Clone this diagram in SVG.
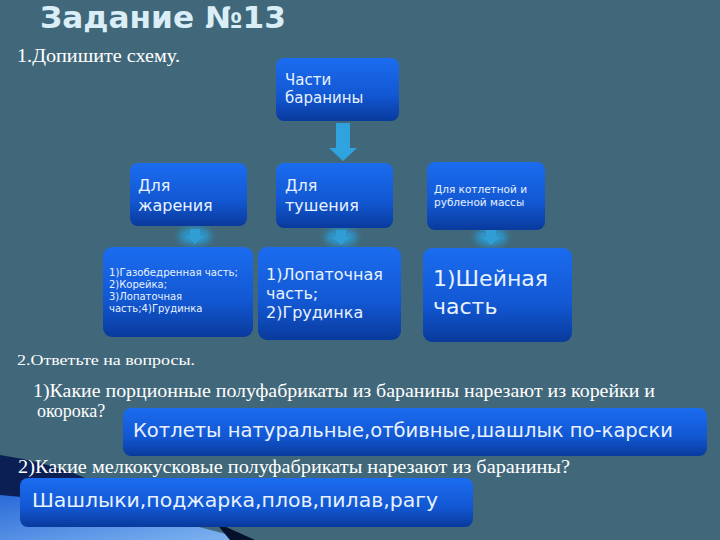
<svg xmlns="http://www.w3.org/2000/svg" width="720" height="540" viewBox="0 0 720 540">
<style>
.box{fill:url(#bg);}
.bt{font-family:"DejaVu Sans","Noto Sans",sans-serif;fill:#e8f2ff;}
.sr{font-family:"Liberation Serif",serif;fill:#ffffff;}
.arr{fill:#2fa3de;}
</style>
<defs>
<linearGradient id="bg" x1="0" y1="0" x2="0" y2="1">
<stop offset="0" stop-color="#1b6cf0"/>
<stop offset="0.6" stop-color="#1257d2"/>
<stop offset="1" stop-color="#093a9c"/>
</linearGradient>
<linearGradient id="sw" x1="0" y1="0" x2="1" y2="1">
<stop offset="0" stop-color="#2a6ad8"/>
<stop offset="1" stop-color="#7fb4f0"/>
</linearGradient>
<filter id="glow" x="-50%" y="-50%" width="200%" height="200%"><feGaussianBlur stdDeviation="3"/></filter>
</defs>
<rect width="720" height="540" fill="#41687a"/>
<!-- bottom-left decoration -->
<path d="M0 455 Q50 462 95 482 L95 540 L0 540 Z" fill="#0b1f55"/>
<path d="M0 495 Q120 505 230 535 L235 540 L0 540 Z" fill="url(#sw)"/>
<path d="M215 522 L255 540 L230 540 Z" fill="#05102a"/>
<text x="40" y="28" font-family="'DejaVu Sans',sans-serif" font-weight="bold" font-size="30" fill="#d9eef6" textLength="246" lengthAdjust="spacingAndGlyphs">Задание №13</text>
<text class="sr" x="17" y="62" font-size="18" textLength="163" lengthAdjust="spacingAndGlyphs">1.Допишите схему.</text>
<g id="connectors">
<path class="arr" d="M336 123 H350 V148 H357 L343 161 L329 148 H336 Z"/>
<g opacity="0.9">
<ellipse cx="195" cy="236" rx="16" ry="9" fill="#2a9ad0" filter="url(#glow)"/>
<path class="arr" d="M190 229 H200 V236 H204 L195 244 L186 236 H190 Z"/>
<ellipse cx="341" cy="237" rx="16" ry="9" fill="#2a9ad0" filter="url(#glow)"/>
<path class="arr" d="M336 230 H346 V237 H350 L341 245 L332 237 H336 Z"/>
<ellipse cx="491" cy="237" rx="16" ry="9" fill="#2a9ad0" filter="url(#glow)"/>
<path class="arr" d="M486 230 H496 V237 H500 L491 245 L482 237 H486 Z"/>
</g>
</g>
<g id="n-parts">
<rect class="box" x="276" y="58" width="123" height="63" rx="8"/>
<text class="bt" x="285" y="85" font-size="15">Части</text>
<text class="bt" x="285" y="103" font-size="15">баранины</text>
</g>
<g id="n-fry">
<rect class="box" x="130" y="163" width="117" height="63" rx="8"/>
<text class="bt" x="138" y="191" font-size="16">Для</text>
<text class="bt" x="138" y="211" font-size="16">жарения</text>
</g>
<g id="n-stew">
<rect class="box" x="276" y="163" width="117" height="65" rx="8"/>
<text class="bt" x="285" y="191" font-size="16">Для</text>
<text class="bt" x="285" y="211" font-size="16">тушения</text>
</g>
<g id="n-cutlet">
<rect class="box" x="427" y="162" width="118" height="68" rx="8"/>
<text class="bt" x="434" y="193" font-size="10.5">Для котлетной и</text>
<text class="bt" x="434" y="206" font-size="10.5">рубленой массы</text>
</g>
<g id="n-fry-list">
<rect class="box" x="103" y="247" width="150" height="90" rx="9"/>
<text class="bt" x="109" y="276" font-size="10" textLength="129" lengthAdjust="spacingAndGlyphs">1)Газобедренная часть;</text>
<text class="bt" x="109" y="288" font-size="10">2)Корейка;</text>
<text class="bt" x="109" y="300" font-size="10">3)Лопаточная</text>
<text class="bt" x="109" y="312" font-size="10">часть;4)Грудинка</text>
</g>
<g id="n-stew-list">
<rect class="box" x="258" y="247" width="143" height="93" rx="9"/>
<text class="bt" x="266" y="280" font-size="16">1)Лопаточная</text>
<text class="bt" x="266" y="299" font-size="16">часть;</text>
<text class="bt" x="266" y="318" font-size="16">2)Грудинка</text>
</g>
<g id="n-cutlet-list">
<rect class="box" x="423" y="248" width="149" height="94" rx="9"/>
<text class="bt" x="433" y="286" font-size="22">1)Шейная</text>
<text class="bt" x="433" y="314" font-size="22">часть</text>
</g>
<text class="sr" x="17" y="365" font-size="14" textLength="178" lengthAdjust="spacingAndGlyphs">2.Ответьте на вопросы.</text>
<text class="sr" x="33" y="397" font-size="18" textLength="622" lengthAdjust="spacingAndGlyphs">1)Какие порционные полуфабрикаты из баранины нарезают из корейки и</text>
<text class="sr" x="37" y="417" font-size="18">окорока?</text>
<g id="n-answer1">
<rect class="box" x="123" y="408" width="584" height="48" rx="8"/>
<text class="bt" x="133" y="437" font-size="19" textLength="540" lengthAdjust="spacingAndGlyphs">Котлеты натуральные,отбивные,шашлык по-карски</text>
</g>
<text class="sr" x="18" y="473" font-size="18" textLength="552" lengthAdjust="spacingAndGlyphs">2)Какие мелкокусковые полуфабрикаты нарезают из баранины?</text>
<g id="n-answer2">
<rect class="box" x="20" y="478" width="453" height="49" rx="8"/>
<text class="bt" x="32" y="507" font-size="20" textLength="406" lengthAdjust="spacingAndGlyphs">Шашлыки,поджарка,плов,пилав,рагу</text>
</g>
</svg>
